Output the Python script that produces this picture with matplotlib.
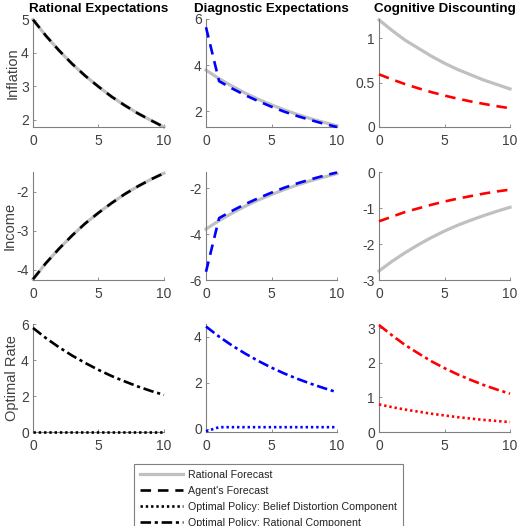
import matplotlib
matplotlib.use("Agg")
import matplotlib.pyplot as plt
from matplotlib.lines import Line2D
from matplotlib.ticker import FuncFormatter

plt.rcParams['font.family'] = ['Liberation Sans', 'DejaVu Sans']

# horizon
t = [0, 1, 2, 3, 4, 5, 6, 7, 8, 9, 10]

# Rational Expectations
re_infl_rat = [5.00, 4.51, 4.07, 3.67, 3.31, 2.99, 2.69, 2.43, 2.19, 1.98, 1.78]
re_infl_agent = [5.00, 4.51, 4.07, 3.67, 3.31, 2.99, 2.69, 2.43, 2.19, 1.98, 1.78]
re_inc_rat = [-4.25, -3.83, -3.46, -3.12, -2.81, -2.54, -2.29, -2.06, -1.86, -1.68, -1.52]
re_inc_agent = [-4.25, -3.83, -3.46, -3.12, -2.81, -2.54, -2.29, -2.06, -1.86, -1.68, -1.52]
re_rate_bd = [0, 0, 0, 0, 0, 0, 0, 0, 0, 0, 0]
re_rate_rc = [5.78, 5.21, 4.70, 4.24, 3.83, 3.45, 3.11, 2.81, 2.53, 2.28, 2.06]

# Diagnostic Expectations
de_infl_rat = [3.78, 3.41, 3.08, 2.78, 2.51, 2.27, 2.05, 1.85, 1.67, 1.51, 1.36]
de_infl_agent = [5.64, 3.30, 2.98, 2.69, 2.43, 2.19, 1.97, 1.78, 1.61, 1.45, 1.31]
de_inc_rat = [-3.78, -3.41, -3.08, -2.78, -2.51, -2.27, -2.05, -1.85, -1.67, -1.51, -1.36]
de_inc_agent = [-5.64, -3.30, -2.98, -2.69, -2.43, -2.19, -1.97, -1.78, -1.61, -1.45, -1.31]
de_rate_bd = [-0.12, 0.06, 0.06, 0.06, 0.06, 0.06, 0.06, 0.06, 0.06, 0.06, 0.06]
de_rate_rc = [4.44, 4.00, 3.61, 3.26, 2.94, 2.65, 2.39, 2.16, 1.95, 1.76, 1.58]

# Cognitive Discounting
cd_infl_rat = [1.21, 1.09, 0.98, 0.89, 0.80, 0.72, 0.65, 0.59, 0.53, 0.48, 0.43]
cd_infl_agent = [0.595, 0.537, 0.484, 0.437, 0.394, 0.355, 0.320, 0.289, 0.261, 0.235, 0.212]
cd_inc_rat = [-2.75, -2.48, -2.24, -2.02, -1.82, -1.64, -1.48, -1.34, -1.21, -1.09, -0.98]
cd_inc_agent = [-1.37, -1.24, -1.11, -1.01, -0.91, -0.82, -0.74, -0.67, -0.60, -0.54, -0.49]
cd_rate_bd = [0.80, 0.72, 0.65, 0.59, 0.53, 0.48, 0.43, 0.39, 0.35, 0.32, 0.285]
cd_rate_rc = [3.10, 2.80, 2.52, 2.28, 2.05, 1.85, 1.67, 1.51, 1.36, 1.23, 1.11]

titles = ['Rational Expectations', 'Diagnostic Expectations', 'Cognitive Discounting']
row_labels = ['Inflation', 'Income', 'Optimal Rate']
colors = ['black', 'blue', 'red']
legend_labels = ['Rational Forecast', "Agent's Forecast",
                 'Optimal Policy: Belief Distortion Component',
                 'Optimal Policy: Rational Component']

forecast_rat = [[re_infl_rat, de_infl_rat, cd_infl_rat], [re_inc_rat, de_inc_rat, cd_inc_rat]]
forecast_agent = [[re_infl_agent, de_infl_agent, cd_infl_agent], [re_inc_agent, de_inc_agent, cd_inc_agent]]
rate_bd = [re_rate_bd, de_rate_bd, cd_rate_bd]
rate_rc = [re_rate_rc, de_rate_rc, cd_rate_rc]

xticks = [0, 5, 10]
yticks = [[[2, 3, 4, 5], [2, 4, 6], [0, 0.5, 1]],
          [[-4, -3, -2], [-6, -4, -2], [-3, -2, -1, 0]],
          [[0, 2, 4, 6], [0, 2, 4], [0, 1, 2, 3]]]
ylims = [[(1.78, 5.02), (1.31, 6.0), (0, 1.22)],
         [(-4.27, -1.49), (-6.0, -1.29), (-3.0, 0.0)],
         [(0, 6.0), (-0.15, 4.55), (0, 3.13)]]
label_x = [-0.10, -0.125, -0.105]

W, H = 521, 526
fig = plt.figure(figsize=(W / 100, H / 100), dpi=100)

lefts = [33, 206, 379]
bottoms = [127, 280, 432]
aw, ah = 131, 108

gray_line = '#c0c0c0'
axis_gray = '#808080'
text_gray = '#404040'

for r in range(3):
    for c in range(3):
        ax = fig.add_axes([lefts[c] / W, 1 - bottoms[r] / H, aw / W, ah / H])
        col = colors[c]
        if r < 2:
            ax.plot(t, forecast_rat[r][c], color=gray_line, lw=2.3, clip_on=False, zorder=2)
            ax.plot(t, forecast_agent[r][c], color=col, lw=1.9, dashes=(4, 2.6),
                    clip_on=False, zorder=3)
        else:
            ax.plot(t, rate_bd[c], color=col, lw=1.9, dashes=(0.9, 1.1),
                    clip_on=False, zorder=3)
            ax.plot(t, rate_rc[c], color=col, lw=1.9, dashes=(4, 1.4, 1.2, 1.4),
                    clip_on=False, zorder=3)

        ax.set_xlim(0, 10)
        ax.set_ylim(*ylims[r][c])
        ax.set_xticks(xticks)
        ax.set_yticks(yticks[r][c])
        ax.yaxis.set_major_formatter(FuncFormatter(lambda v, p: '%g' % v))
        for s in ['top', 'right']:
            ax.spines[s].set_visible(False)
        for s in ['left', 'bottom']:
            ax.spines[s].set_color(axis_gray)
            ax.spines[s].set_linewidth(0.8)
        ax.tick_params(direction='in', length=2, width=0.6, color=axis_gray,
                       labelcolor=text_gray, labelsize=10)
        ax.tick_params(axis='x', pad=5)
        ax.tick_params(axis='y', pad=3)
        ax.set_facecolor('none')

        if r == 0:
            ax.set_title(titles[c], fontsize=9.6, fontweight='bold', pad=5)
        if c == 0:
            ax.set_ylabel(row_labels[r], fontsize=10.5, color=text_gray)
            ax.yaxis.set_label_coords(label_x[r], 0.5)

handles = [Line2D([], [], color=gray_line, lw=2.3),
           Line2D([], [], color='black', lw=1.9, dashes=(4, 2.6)),
           Line2D([], [], color='black', lw=1.9, dashes=(0.9, 1.1)),
           Line2D([], [], color='black', lw=1.9, dashes=(4, 1.4, 1.2, 1.4))]
leg = fig.legend(handles, legend_labels, loc='upper left',
                 bbox_to_anchor=(134 / W, 1 - 464 / H), fontsize=7.7,
                 frameon=True, fancybox=False, framealpha=1, edgecolor=axis_gray,
                 handlelength=4.0, handletextpad=0.5, labelspacing=0.55,
                 borderpad=0.55, borderaxespad=0)
leg.get_frame().set_linewidth(0.8)
for txt in leg.get_texts():
    txt.set_color('#222222')

fig.savefig('out.png', dpi=100)
